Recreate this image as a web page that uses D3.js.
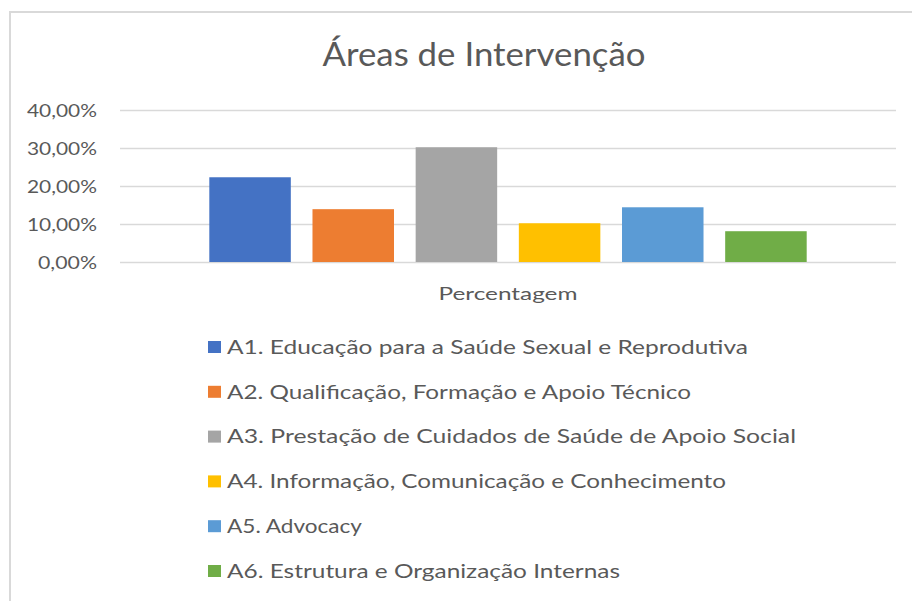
<!DOCTYPE html>
<html>
<head>
<meta charset="utf-8">
<script src="https://cdn.jsdelivr.net/npm/d3@7"></script>
<style>
  html, body { margin: 0; padding: 0; background: #ffffff; }
  svg { display: block; }
  text { font-family: Lato, "Open Sans", sans-serif; fill: #595959; }
</style>
</head>
<body>
<svg id="chart" width="912" height="601"></svg>
<script>
const title = "Áreas de Intervenção";
const categoryLabel = "Percentagem";
const seriesNames = [
  "A1. Educação para a Saúde Sexual e Reprodutiva",
  "A2. Qualificação, Formação e Apoio Técnico",
  "A3. Prestação de Cuidados de Saúde de Apoio Social",
  "A4. Informação, Comunicação e Conhecimento",
  "A5. Advocacy",
  "A6. Estrutura e Organização Internas"
];
const seriesValues = [0.223, 0.139, 0.302, 0.102, 0.144, 0.081];
const seriesColors = ["#4472C4", "#ED7D31", "#A5A5A5", "#FFC000", "#5B9BD5", "#70AD47"];
const yTicks = [0, 0.1, 0.2, 0.3, 0.4];
const yTickLabels = ["0,00%", "10,00%", "20,00%", "30,00%", "40,00%"];

const svg = d3.select("#chart");

// chart border
svg.append("rect")
  .attr("x", 10).attr("y", 12).attr("width", 920).attr("height", 620)
  .attr("fill", "none").attr("stroke", "#d9d9d9").attr("stroke-width", 2);

const plot = { left: 120, right: 896, top: 110, bottom: 262 };

const y = d3.scaleLinear().domain([0, 0.4]).range([plot.bottom, plot.top]);

// outer category band (single category)
const x0 = d3.scaleBand().domain([categoryLabel]).range([plot.left, plot.right]).paddingInner(0).paddingOuter(0.1495);
const x1 = d3.scaleBand().domain(seriesNames).range([0, x0.bandwidth()]).paddingInner(0.21).paddingOuter(0);

// gridlines
const yAxis = d3.axisLeft(y).tickValues(yTicks).tickSize(-(plot.right - plot.left)).tickFormat((d, i) => yTickLabels[i]);
const gAxis = svg.append("g").attr("transform", `translate(${plot.left},0)`).call(yAxis);
gAxis.select(".domain").remove();
gAxis.selectAll(".tick line").attr("stroke", "#d9d9d9").attr("stroke-width", 1.5);
gAxis.selectAll(".tick text")
  .attr("x", -23)
  .attr("dy", "0.36em")
  .style("font-size", "17px")
  .attr("fill", "#595959")
  .attr("textLength", (d, i) => yTickLabels[i].length === 5 ? 59 : 70)
  .attr("lengthAdjust", "spacingAndGlyphs");

// bars
const gBars = svg.append("g").attr("transform", `translate(${x0(categoryLabel)},0)`);
gBars.selectAll("rect")
  .data(seriesNames)
  .join("rect")
  .attr("x", d => x1(d))
  .attr("width", x1.bandwidth())
  .attr("y", (d, i) => y(seriesValues[i]))
  .attr("height", (d, i) => y(0) - y(seriesValues[i]))
  .attr("fill", (d, i) => seriesColors[i]);

// title
svg.append("text")
  .attr("x", 484).attr("y", 66)
  .attr("text-anchor", "middle")
  .style("font-size", "33px")
  .attr("textLength", 323)
  .attr("lengthAdjust", "spacingAndGlyphs")
  .text(title);

// category label
svg.append("text")
  .attr("x", x0(categoryLabel) + x0.bandwidth() / 2).attr("y", 300)
  .attr("text-anchor", "middle")
  .style("font-size", "18px")
  .attr("textLength", 139)
  .attr("lengthAdjust", "spacingAndGlyphs")
  .text(categoryLabel);

// legend
const legendWidths = [521, 464, 569, 499, 135, 393];
const legendY = d3.scalePoint().domain(seriesNames).range([347, 571]);
const gLeg = svg.append("g");
const items = gLeg.selectAll("g").data(seriesNames).join("g")
  .attr("transform", d => `translate(0,${legendY(d)})`);
items.append("rect")
  .attr("x", 208).attr("y", -6).attr("width", 13).attr("height", 12)
  .attr("fill", (d, i) => seriesColors[i]);
items.append("text")
  .attr("x", 227).attr("y", 0).attr("dy", "0.36em")
  .style("font-size", "19px")
  .attr("textLength", (d, i) => legendWidths[i])
  .attr("lengthAdjust", "spacingAndGlyphs")
  .text(d => d);
</script>
</body>
</html>
